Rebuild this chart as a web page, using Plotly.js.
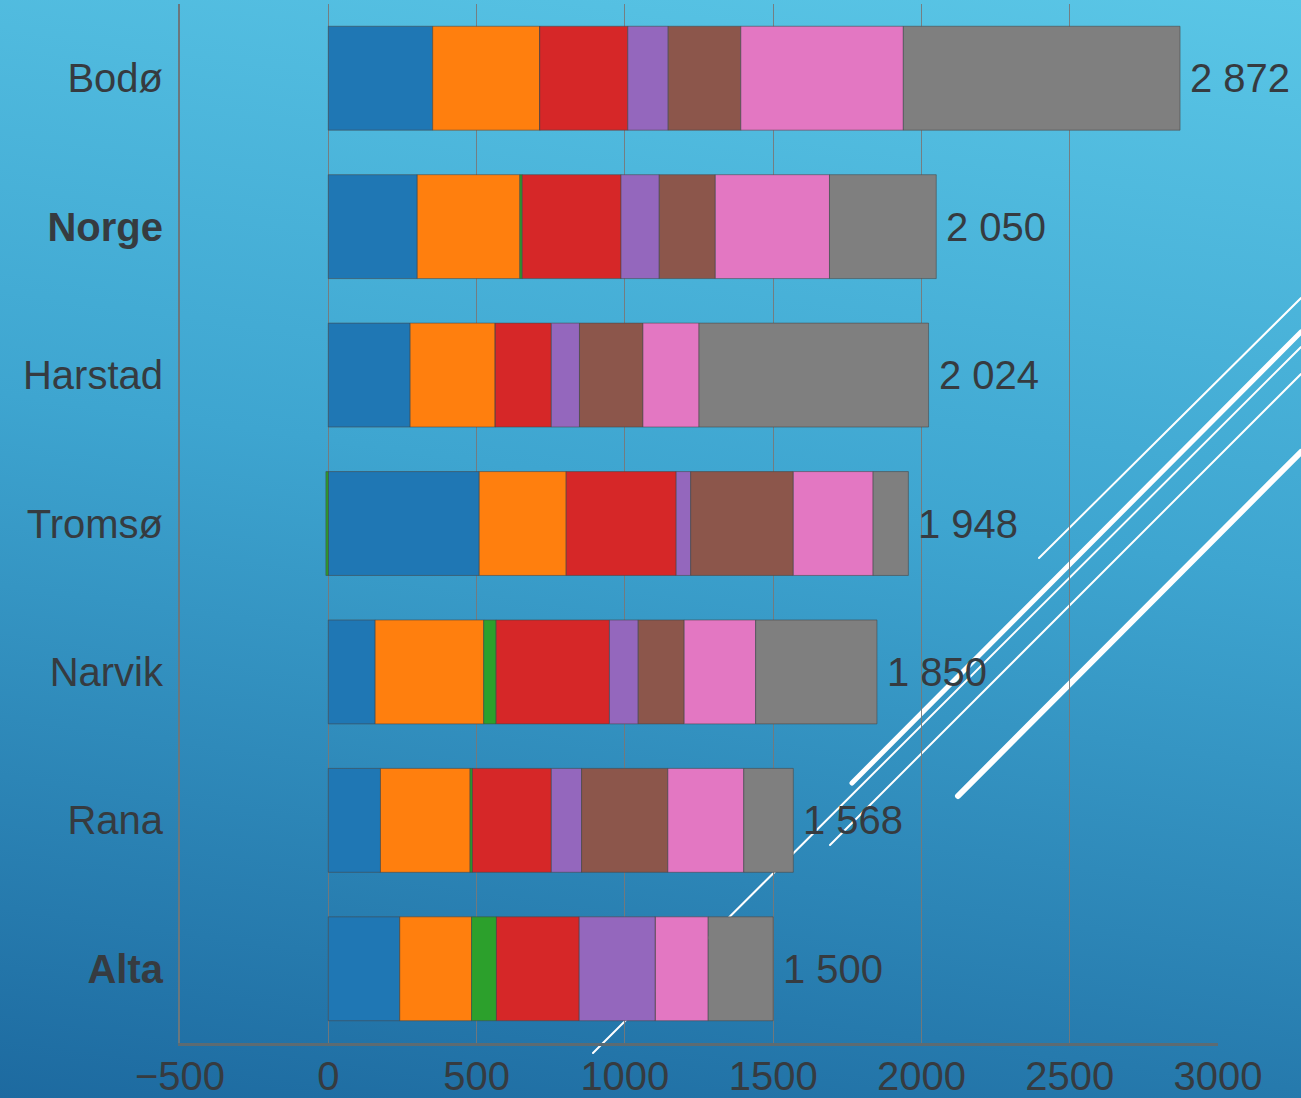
<!DOCTYPE html>
<html>
<head>
<meta charset="utf-8">
<script src="https://cdn.plot.ly/plotly-3.0.1.min.js"></script>
<style>
  html, body { margin: 0; padding: 0; }
  body {
    width: 1301px; height: 1098px; overflow: hidden; position: relative;
    background: linear-gradient(188deg, #5ac6e6 0%, #3ea5d0 45%, #1d6aa0 100%);
  }
  #deco { position: absolute; left: 0; top: 0; z-index: 0; }
  #chart { position: absolute; left: 0; top: 0; width: 1301px; height: 1098px; z-index: 1; }
</style>
</head>
<body>
<svg id="deco" width="1301" height="1098" xmlns="http://www.w3.org/2000/svg">
  <g stroke="#ffffff" fill="none" stroke-linecap="round">
    <line x1="1039" y1="558" x2="1301" y2="298" stroke-width="2"/>
    <line x1="852" y1="783" x2="1301" y2="332" stroke-width="5"/>
    <line x1="593" y1="1053" x2="1301" y2="347" stroke-width="2"/>
    <line x1="830" y1="845" x2="1301" y2="374" stroke-width="2"/>
    <line x1="958" y1="796" x2="1301" y2="452" stroke-width="6"/>
  </g>
</svg>
<div id="chart"></div>
<script>
// ---- data ----
const categories = ['Bodø', 'Norge', 'Harstad', 'Tromsø', 'Narvik', 'Rana', 'Alta'];
const boldCategories = ['Norge', 'Alta'];
const seriesNames = ['Kategori 1', 'Kategori 2', 'Kategori 3', 'Kategori 4', 'Kategori 5', 'Kategori 6', 'Kategori 7', 'Kategori 8'];
const s1 = [352, 300, 276, 509, 158, 176, 241];
const s2 = [361, 346, 287, 293, 366, 302, 242];
const s3 = [0, 8, 0, -8, 42, 8, 84];
const s4 = [297, 333, 189, 371, 382, 266, 279];
const s5 = [136, 129, 95, 49, 97, 102, 257];
const s6 = [245, 189, 214, 346, 155, 291, 0];
const s7 = [548, 385, 189, 269, 241, 256, 178];
const s8 = [933, 360, 774, 119, 409, 167, 219];
const totalLabels = [2872, 2050, 2024, 1948, 1850, 1568, 1500];
const xTicks = [-500, 0, 500, 1000, 1500, 2000, 2500, 3000];

const colors = ['#1f77b4', '#ff7f0e', '#2ca02c', '#d62728', '#9467bd', '#8c564b', '#e377c2', '#7f7f7f'];
const series = [s1, s2, s3, s4, s5, s6, s7, s8];
const textColor = '#363b40';
const fontFam = '"Liberation Sans", Arial, Helvetica, sans-serif';

const traces = series.map((vals, i) => ({
  type: 'bar',
  orientation: 'h',
  name: seriesNames[i],
  y: categories,
  x: vals,
  width: 0.7,
  marker: { color: colors[i], line: { color: 'rgba(70,70,70,0.55)', width: 1 } },
  hoverinfo: 'x+name'
}));

function fmt(n) {
  return String(n).replace(/\B(?=(\d{3})+(?!\d))/g, ' ');
}

const annotations = categories.map((c, j) => {
  let pos = 0;
  series.forEach(s => { if (s[j] > 0) pos += s[j]; });
  return {
    x: pos, y: c, xref: 'x', yref: 'y',
    text: fmt(totalLabels[j]),
    showarrow: false, xanchor: 'left', yanchor: 'middle', xshift: 8,
    font: { family: fontFam, size: 40, color: textColor }
  };
});

const tickText = categories.map(c => boldCategories.includes(c) ? '<b>' + c + '</b>' : c);

const layout = {
  width: 1301, height: 1098,
  margin: { l: 180, r: 83, t: 4, b: 55 },
  paper_bgcolor: 'rgba(0,0,0,0)',
  plot_bgcolor: 'rgba(0,0,0,0)',
  barmode: 'relative',
  showlegend: false,
  font: { family: fontFam, color: textColor },
  xaxis: {
    range: [-500, 3000],
    tickvals: xTicks,
    ticks: '',
    showgrid: true, gridcolor: 'rgba(120,120,120,0.9)', gridwidth: 1,
    zeroline: false,
    showline: true, linecolor: '#5d6b72', linewidth: 2.5,
    tickfont: { family: fontFam, size: 40, color: textColor },
    ticklabelstandoff: -4
  },
  yaxis: {
    type: 'category',
    categoryorder: 'array', categoryarray: categories,
    range: [6.5, -0.5],
    tickvals: categories, ticktext: tickText,
    ticks: '',
    showgrid: false, zeroline: false,
    showline: true, linecolor: '#6b777d', linewidth: 2,
    tickfont: { family: fontFam, size: 40, color: textColor },
    ticklabelstandoff: 7
  },
  annotations: annotations
};

Plotly.newPlot('chart', traces, layout, { displayModeBar: false, staticPlot: true });
</script>
</body>
</html>
